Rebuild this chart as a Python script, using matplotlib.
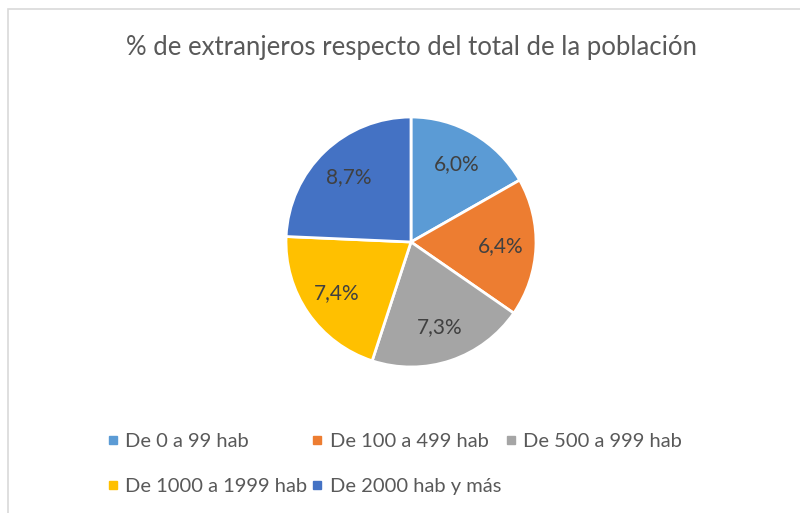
import matplotlib
matplotlib.use("Agg")
from matplotlib import pyplot as plt
from matplotlib.lines import Line2D
from matplotlib.patches import Rectangle

plt.rcParams['font.family'] = ['Lato', 'DejaVu Sans']

title = '% de extranjeros respecto del total de la población'
categories = ['De 0 a 99 hab', 'De 100 a 499 hab', 'De 500 a 999 hab',
              'De 1000 a 1999 hab', 'De 2000 hab y más']
values = [6.0, 6.4, 7.3, 7.4, 8.7]
colors = ['#5B9BD5', '#ED7D31', '#A5A5A5', '#FFC000', '#4472C4']

fig = plt.figure(figsize=(8, 5.13), dpi=100)

# chart area border (only left and top edges show in the reference)
fig.patches.append(Rectangle((8/800, -0.1), 1.2, (513-9)/513 + 0.1,
                             transform=fig.transFigure, fill=False,
                             edgecolor='#D9D9D9', linewidth=1.2))

fig.text(411/800, 1 - 48/513, title, ha='center', va='center',
         fontsize=18.5, color='#595959')

ax = fig.add_axes([(411-125)/800, (271-125)/513, 250/800, 250/513])
wedges, texts = ax.pie(values, colors=colors, startangle=90, counterclock=False,
                       wedgeprops=dict(edgecolor='white', linewidth=2),
                       labels=[('%.1f%%' % v).replace('.', ',') for v in values],
                       labeldistance=0.72,
                       textprops=dict(fontsize=15, color='#404040', ha='center', va='center'))
ax.set_xlim(-1, 1)
ax.set_ylim(-1, 1)

# legend fills column by column, so reorder to get rows like the original
order = [0, 3, 1, 4, 2]
handles = [Line2D([], [], marker='s', linestyle='none', markersize=6,
                  markerfacecolor=colors[i], markeredgecolor=colors[i]) for i in order]
fig.legend(handles, [categories[i] for i in order], ncol=3, loc='center left',
           bbox_to_anchor=(90/800, 1 - 464/513), frameon=False,
           fontsize=14.5, labelcolor='#595959', handlelength=0.5,
           handletextpad=0.35, columnspacing=0.25, labelspacing=1.4)

fig.savefig('out.png', dpi=100)
